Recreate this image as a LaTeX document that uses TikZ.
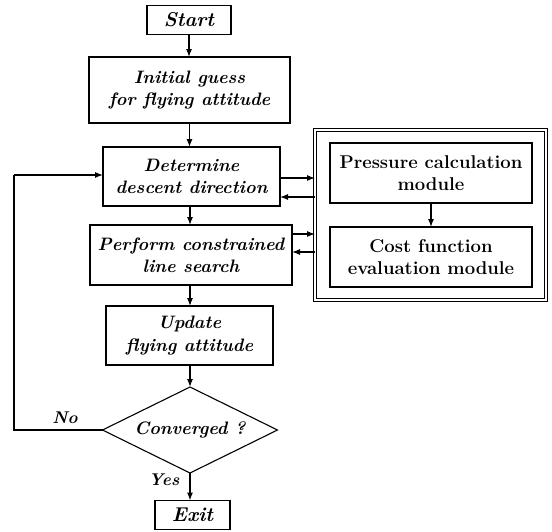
\documentclass[tikz,border=0pt]{standalone}
\usepackage{fontspec}
\setmainfont{Latin Modern Roman}
\usetikzlibrary{shapes.geometric,arrows.meta}
\begin{document}
\begin{tikzpicture}[x=1pt,y=-1pt,
  every node/.style={inner sep=0pt, outer sep=0pt},
  box/.style={draw, line width=1.1pt, rectangle, align=center,
    font=\fontsize{18}{22.5}\selectfont\bfseries\itshape},
  termbox/.style={box, font=\fontsize{20}{22}\selectfont\bfseries\itshape},
  modbox/.style={draw, line width=1.1pt, rectangle, align=center,
    font=\fontsize{18.5}{22}\selectfont\bfseries},
  lbl/.style={font=\fontsize{17}{20}\selectfont\bfseries\itshape},
  arr/.style={line width=1.1pt, -{Latex[length=8pt,width=6pt]}},
  ln/.style={line width=1.1pt}]
\useasboundingbox (0,0) rectangle (552,531);
\node[termbox, minimum width=84pt, minimum height=29pt] (start) at (189,20) {Start};
\node[box, minimum width=201pt, minimum height=66pt] (init) at (189.5,90) {Initial guess\\for flying attitude};
\node[box, minimum width=177pt, minimum height=59pt] (det) at (191.5,176.5) {Determine\\descent direction};
\node[box, minimum width=202pt, minimum height=60pt] (perf) at (191,255) {Perform constrained\\line search};
\node[box, minimum width=167pt, minimum height=59pt] (upd) at (189.5,335.5) {Update\\flying attitude};
\node[box, diamond, aspect=2, minimum width=175pt, minimum height=86pt] (conv) at (190,430) {Converged ?};
\node[termbox, minimum width=75pt, minimum height=29pt] (exit) at (192.5,515) {Exit};
\node[draw, rectangle, line width=0.9pt, double, double distance=2.2pt, minimum width=231pt, minimum height=170pt] (outer) at (430.5,215) {};
\node[modbox, minimum width=202pt, minimum height=60pt] (press) at (431,173) {Pressure calculation\\module};
\node[modbox, minimum width=202pt, minimum height=60pt] (cost) at (431,257) {Cost function\\evaluation module};
\node[lbl] (no) at (65,418) {No};
\node[lbl] (yes) at (164,480) {Yes};
\coordinate (lb) at (14,430);
\coordinate (lt) at (14,175);
% main flow
\draw[arr] (start.south) -- (start.south |- init.north);
\draw[arr] (init.south) -- (init.south |- det.north);
\draw[arr] (190,206) -- (190,225);
\draw[arr] (190,285) -- (190,306);
\draw[arr] (conv.north |- upd.south) -- (conv.north);
\draw[arr] (conv.south) -- (conv.south |- exit.north);
\draw[arr] (press.south) -- (cost.north);
% loop back
\draw[ln] (conv.west) -- (lb) -- (lt);
\draw[arr] (lt) -- (lt -| det.west);
% to/from module
\draw[arr] (det.east |- 0,178) -- (outer.west |- 0,178);
\draw[arr] (outer.west |- 0,197) -- (det.east |- 0,197);
\draw[arr] (perf.east |- 0,234) -- (outer.west |- 0,234);
\draw[arr] (outer.west |- 0,252) -- (perf.east |- 0,252);
\end{tikzpicture}
\end{document}
